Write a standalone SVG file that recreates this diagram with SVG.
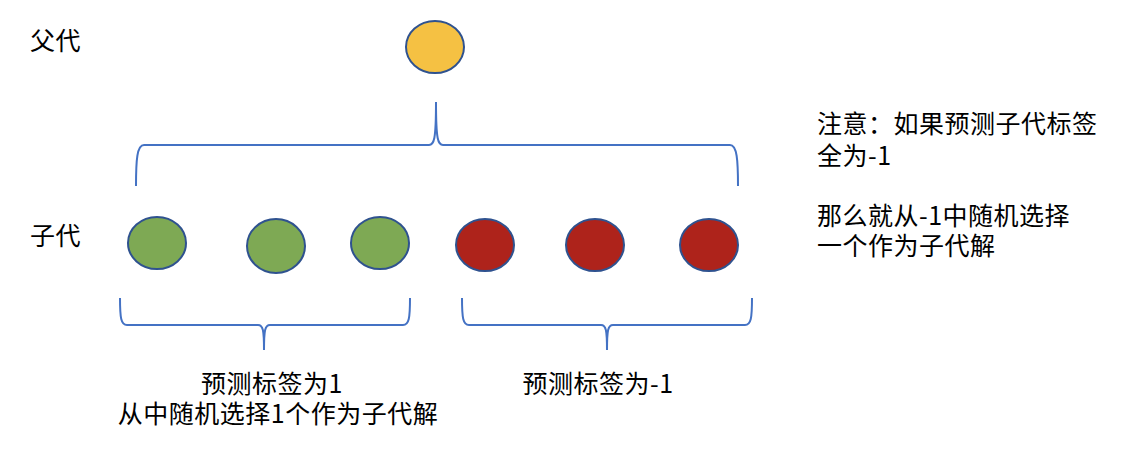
<svg xmlns="http://www.w3.org/2000/svg" width="1122" height="450" viewBox="0 0 1122 450">
<style>
text{font-family:"Noto Sans CJK SC","Liberation Sans",sans-serif;font-size:25px;letter-spacing:0.5px;fill:#000}
.node{stroke:#2F528F;stroke-width:2}
.par{fill:#F5C143}
.pos{fill:#7EA954}
.neg{fill:#AE231B}
.brace{fill:none;stroke:#4472C4;stroke-width:2}
</style>
<rect width="1122" height="450" fill="#fff"/>
<g id="labels">
<text x="30" y="50">父代</text>
<text x="30" y="245">子代</text>
</g>
<g id="parent"><ellipse class="node par" cx="435" cy="47" rx="29" ry="26"/></g>
<g id="child1"><ellipse class="node pos" cx="157" cy="243" rx="29" ry="26"/></g>
<g id="child2"><ellipse class="node pos" cx="276" cy="246" rx="29" ry="27"/></g>
<g id="child3"><ellipse class="node pos" cx="380" cy="243" rx="29" ry="26"/></g>
<g id="child4"><ellipse class="node neg" cx="485" cy="245" rx="29" ry="26"/></g>
<g id="child5"><ellipse class="node neg" cx="595" cy="245" rx="29" ry="26"/></g>
<g id="child6"><ellipse class="node neg" cx="709" cy="245" rx="29" ry="26"/></g>
<g id="connectors">
<path class="brace" d="M136,186 C136,160 137,145 144,145 L429,145 C434,145 436,140 436,102 C436,140 438,145 443,145 L730,145 C737,145 738,160 738,186"/>
<path class="brace" d="M120,298 C120,318 121,325 127,325 L258,325 C263,325 264,330 264,350 C264,330 265,325 270,325 L403,325 C409,325 410,318 410,298"/>
<path class="brace" d="M462,298 C462,318 463,325 469,325 L601,325 C606,325 607,330 607,350 C607,330 608,325 613,325 L745,325 C751,325 752,318 752,298"/>
</g>
<g id="note">
<text x="817" y="133"><tspan x="817" y="133">注意：如果预测子代标签</tspan><tspan x="817" y="165">全为-1</tspan></text>
<text x="817" y="225"><tspan x="817" y="225">那么就从-1中随机选择</tspan><tspan x="817" y="255">一个作为子代解</tspan></text>
</g>
<g id="group-labels">
<text text-anchor="middle"><tspan x="272" y="393">预测标签为1</tspan><tspan x="278" y="423">从中随机选择1个作为子代解</tspan></text>
<text x="598" y="393" text-anchor="middle">预测标签为-1</text>
</g>
</svg>
